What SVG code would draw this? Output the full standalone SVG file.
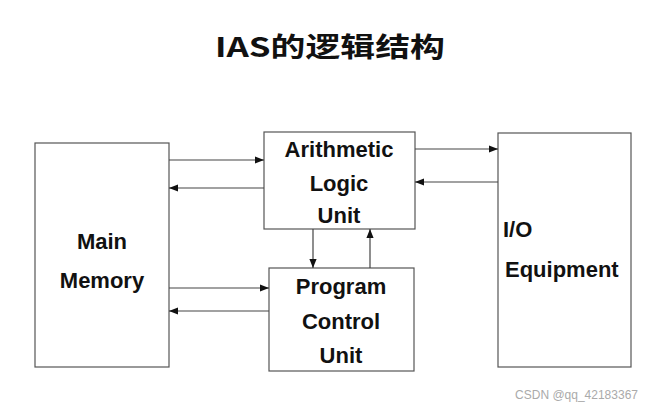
<svg xmlns="http://www.w3.org/2000/svg" width="655" height="409" viewBox="0 0 655 409">
<style>
.box{fill:#fff;stroke:#555;stroke-width:1.2}
.lbl{font-family:"Liberation Sans",Arial,sans-serif;font-weight:bold;font-size:22px;fill:#111}
.ln{stroke:#444;stroke-width:1.2;fill:none}
</style>
<defs>
<marker id="ah" viewBox="0 0 10 10" refX="10" refY="5" markerWidth="9" markerHeight="9" markerUnits="userSpaceOnUse" orient="auto">
<path d="M0,1 L10,5 L0,9 z" fill="#111"/>
</marker>
</defs>
<rect width="655" height="409" fill="#fff"/>
<text x="215" y="57" textLength="230" lengthAdjust="spacingAndGlyphs" font-family="'Noto Sans CJK SC','Liberation Sans',sans-serif" font-weight="bold" font-size="27" fill="#111">IAS的逻辑结构</text>
<g id="main-memory">
<rect class="box" x="35" y="143" width="134" height="224"/>
<text class="lbl" x="102" y="249" text-anchor="middle">Main</text>
<text class="lbl" x="102" y="288" text-anchor="middle">Memory</text>
</g>
<g id="alu">
<rect class="box" x="264" y="132" width="151" height="97"/>
<text class="lbl" x="339" y="157" text-anchor="middle">Arithmetic</text>
<text class="lbl" x="339" y="191" text-anchor="middle">Logic</text>
<text class="lbl" x="339" y="223" text-anchor="middle">Unit</text>
</g>
<g id="pcu">
<rect class="box" x="269" y="268" width="145" height="103"/>
<text class="lbl" x="341" y="294" text-anchor="middle">Program</text>
<text class="lbl" x="341" y="329" text-anchor="middle">Control</text>
<text class="lbl" x="341" y="363" text-anchor="middle">Unit</text>
</g>
<g id="io">
<rect class="box" x="498" y="133" width="133" height="234"/>
<text class="lbl" x="503" y="237">I/O</text>
<text class="lbl" x="505" y="277">Equipment</text>
</g>
<g id="connectors">
<line class="ln" x1="169" y1="160" x2="264" y2="160" marker-end="url(#ah)"/>
<line class="ln" x1="264" y1="188" x2="169" y2="188" marker-end="url(#ah)"/>
<line class="ln" x1="415" y1="149" x2="498" y2="149" marker-end="url(#ah)"/>
<line class="ln" x1="498" y1="182" x2="415" y2="182" marker-end="url(#ah)"/>
<line class="ln" x1="313" y1="229" x2="313" y2="268" marker-end="url(#ah)"/>
<line class="ln" x1="370" y1="268" x2="370" y2="229" marker-end="url(#ah)"/>
<line class="ln" x1="169" y1="288" x2="269" y2="288" marker-end="url(#ah)"/>
<line class="ln" x1="269" y1="311" x2="169" y2="311" marker-end="url(#ah)"/>
</g>
<text x="638" y="399" text-anchor="end" font-family="'Liberation Sans',Arial,sans-serif" font-size="12" fill="#aaa">CSDN @qq_42183367</text>
</svg>
